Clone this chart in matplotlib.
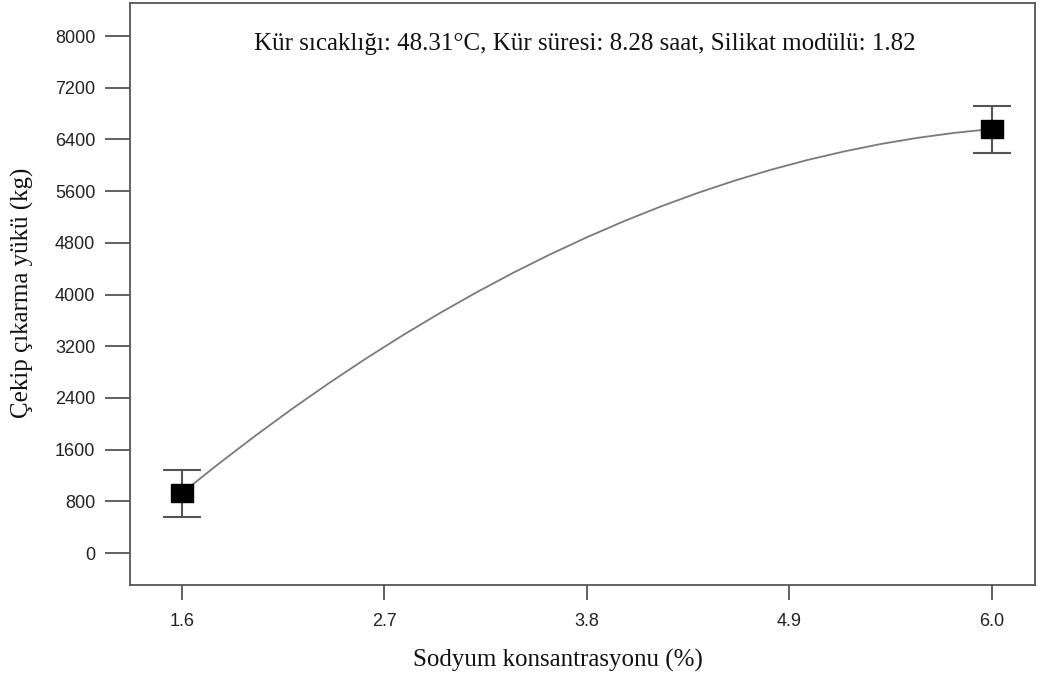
import matplotlib.pyplot as plt

# design points (Sodyum konsantrasyonu, Çekip çıkarma yükü)
pts_x = [1.6, 6.0]
pts_y = [928, 6561]
err_lo = [370, 372]
err_hi = [355, 355]

# fitted curve
curve_x = [1.6, 1.8, 2.0, 2.2, 2.4, 2.6, 2.8, 3.0, 3.2, 3.4, 3.6, 3.8,
           4.0, 4.2, 4.4, 4.6, 4.8, 5.0, 5.2, 5.4, 5.6, 5.8, 6.0]
curve_y = [928, 1382, 1817, 2234, 2631, 3010, 3370, 3711, 4033, 4337, 4621, 4886,
           5133, 5361, 5570, 5760, 5931, 6083, 6216, 6331, 6426, 6503, 6561]

xticks = [1.6, 2.7, 3.8, 4.9, 6.0]
yticks = [0, 800, 1600, 2400, 3200, 4000, 4800, 5600, 6400, 7200, 8000]

fig = plt.figure(figsize=(10.47, 6.82), dpi=100)
ax = fig.add_axes([130/1047, 1-585/682, 905/1047, 582/682])

ax.plot(curve_x, curve_y, color='#7a7a7a', lw=1.3, zorder=2)
ax.errorbar(pts_x, pts_y, yerr=[err_lo, err_hi], fmt='none', ecolor='#555555',
            elinewidth=1.5, capsize=14, capthick=1.5, zorder=3)
# slightly wide square marker
box = [(-1.2, -1), (1.2, -1), (1.2, 1), (-1.2, 1), (-1.2, -1)]
ax.plot(pts_x, pts_y, linestyle='none', marker=box, color='black',
        markersize=16, zorder=4)

ax.set_xlim(1.318, 6.234)
ax.set_ylim(-495, 8511)
ax.set_xticks(xticks)
ax.set_xticklabels(['1.6', '2.7', '3.8', '4.9', '6.0'])
ax.set_yticks(yticks)
ax.set_yticklabels([str(v) for v in yticks])

for s in ax.spines.values():
    s.set_color('#555555')
    s.set_linewidth(1.3)
ax.tick_params(axis='y', length=18, width=1.3, color='#555555', pad=7,
               labelsize=13, labelcolor='#222222')
ax.tick_params(axis='x', length=11, width=1.3, color='#555555', pad=9,
               labelsize=13, labelcolor='#222222')
for lab in ax.get_xticklabels() + ax.get_yticklabels():
    lab.set_family('Liberation Sans')

fig.text(585/1047, 1-44/682, 'Kür sıcaklığı: 48.31°C, Kür süresi: 8.28 saat, Silikat modülü: 1.82',
         ha='center', va='center', family='Liberation Serif', fontsize=18, color='#111111')

fig.text(558/1047, 1-660/682, 'Sodyum konsantrasyonu (%)', ha='center', va='center',
         family='Liberation Serif', fontsize=18, color='#111111')
fig.text(22/1047, 1-293/682, 'Çekip çıkarma yükü (kg)', ha='center', va='center',
         rotation=90, family='Liberation Serif', fontsize=18, color='#111111')

fig.savefig('out.png', dpi=100)
